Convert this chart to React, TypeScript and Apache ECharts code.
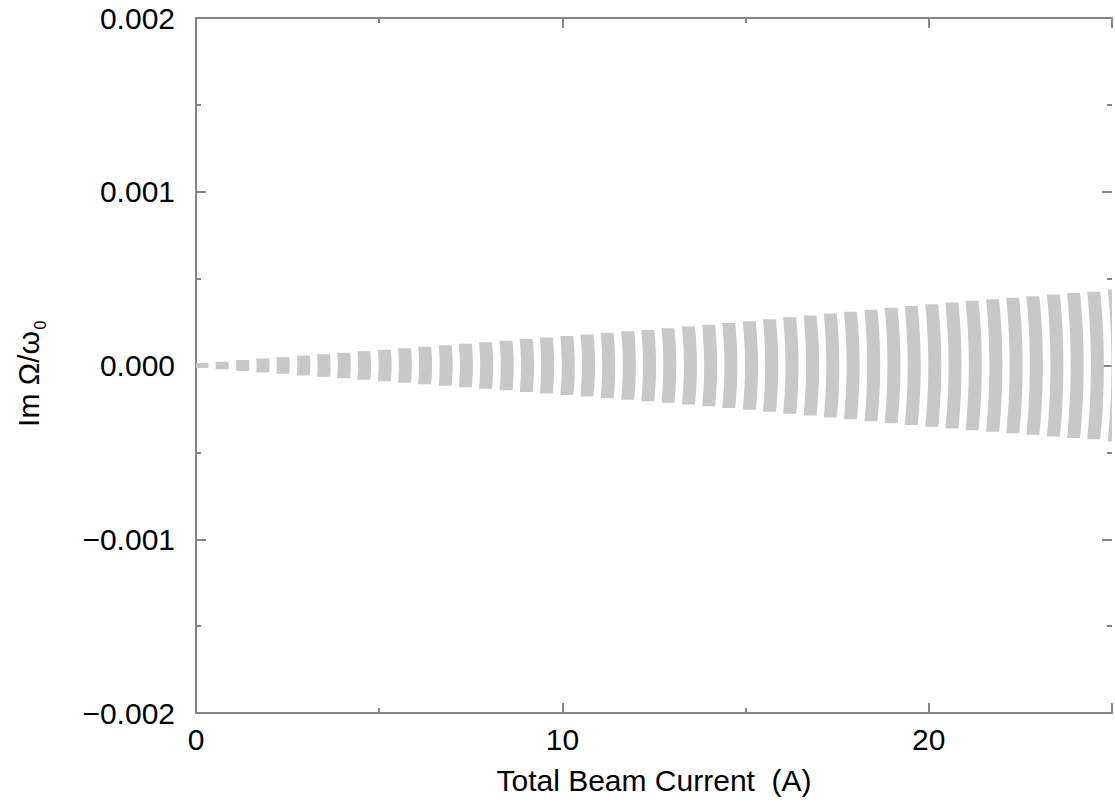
import React, { useEffect, useRef } from "react";
import * as echarts from "echarts";

// Total beam current (A) of each mode group
const currents: number[] = [
  0.16, 0.71, 1.27, 1.82, 2.37, 2.93, 3.48, 4.03, 4.58, 5.14, 5.69, 6.24, 6.8, 7.35, 7.9, 8.46,
  9.01, 9.56, 10.12, 10.67, 11.22, 11.78, 12.33, 12.88, 13.44, 13.99, 14.54, 15.1, 15.65, 16.2,
  16.76, 17.31, 17.86, 18.42, 18.97, 19.52, 20.08, 20.63, 21.18, 21.74, 22.29, 22.84, 23.4,
  23.95, 24.5, 25.06,
];

// Maximum |Im Ω/ω0| spread at each current (symmetric about zero)
const spread: number[] = [
  0.000014, 0.000022, 0.000031, 0.00004, 0.000048, 0.000057, 0.000065, 0.000074, 0.000082,
  0.000091, 0.000099, 0.000108, 0.000116, 0.000125, 0.000134, 0.000143, 0.000152, 0.000161,
  0.00017, 0.000179, 0.000188, 0.000197, 0.000206, 0.000215, 0.000225, 0.000235, 0.000245,
  0.000255, 0.000266, 0.000277, 0.000288, 0.000299, 0.00031, 0.000321, 0.000332, 0.000342,
  0.000352, 0.000362, 0.000372, 0.000381, 0.00039, 0.000399, 0.000408, 0.000417, 0.000425,
  0.000437,
];

const xLabels: number[] = [0, 10, 20];
const yLabels: number[] = [-0.002, -0.001, 0, 0.001, 0.002];

const FONT = "'Liberation Sans', Arial, Helvetica, sans-serif";
const AXIS_COLOR = "#858585";
const BAR_COLOR = "#c8c8c8";
const BAR_PX = 13;
const FS = 30;

export default function App() {
  const ref = useRef<HTMLDivElement>(null);

  useEffect(() => {
    document.body.style.margin = "0";
    if (!ref.current) return;
    const chart = echarts.init(ref.current, undefined, { renderer: "svg" });

    const data = currents.map((c, i) => [c, spread[i]]);

    const fmtY = (v: number) => {
      const r = Math.round(v * 10000) / 10000;
      if (!yLabels.some((l) => Math.abs(l - r) < 1e-9)) return "";
      const s = Math.abs(r).toFixed(3);
      return r < 0 ? "\u2212" + s : s;
    };
    const fmtX = (v: number) =>
      xLabels.includes(Math.round(v)) && Math.abs(v - Math.round(v)) < 1e-9 ? String(v) : "";

    const line = (show: boolean) => ({
      show,
      onZero: false,
      lineStyle: { color: AXIS_COLOR, width: 2 },
    });
    const xBase = {
      type: "value" as const,
      min: 0,
      max: 25,
      splitLine: { show: false },
      axisLine: line(true),
    };
    const yBase = {
      type: "value" as const,
      min: -0.002,
      max: 0.002,
      splitLine: { show: false },
      axisLine: line(true),
    };
    const tick = (len: number) => ({
      show: true,
      inside: true,
      length: len,
      lineStyle: { color: AXIS_COLOR, width: 2 },
    });

    chart.setOption({
      animation: false,
      backgroundColor: "#ffffff",
      grid: { left: 196, right: 0, top: 18, bottom: 89, containLabel: false },
      xAxis: [
        {
          ...xBase,
          position: "bottom",
          interval: 10,
          axisTick: tick(10),
          axisLabel: { show: true, formatter: fmtX, color: "#000", fontFamily: FONT, fontSize: FS, margin: 11 },
          name: "Total Beam Current  (A)",
          nameLocation: "middle",
          nameGap: 52,
          nameTextStyle: { color: "#000", fontFamily: FONT, fontSize: FS },
        },
        { ...xBase, position: "bottom", interval: 5, axisTick: tick(5), axisLabel: { show: false } },
        { ...xBase, position: "top", interval: 10, axisTick: tick(10), axisLabel: { show: false } },
        { ...xBase, position: "top", interval: 5, axisTick: tick(5), axisLabel: { show: false } },
      ],
      yAxis: [
        {
          ...yBase,
          position: "left",
          interval: 0.001,
          axisTick: tick(10),
          axisLabel: { show: true, formatter: fmtY, color: "#000", fontFamily: FONT, fontSize: FS, margin: 21 },
        },
        { ...yBase, position: "left", interval: 0.0005, axisTick: tick(5), axisLabel: { show: false } },
        {
          ...yBase,
          position: "right",
          interval: 0.001,
          axisLine: line(false),
          axisTick: tick(10),
          axisLabel: { show: false },
        },
        {
          ...yBase,
          position: "right",
          interval: 0.0005,
          axisLine: line(false),
          axisTick: tick(5),
          axisLabel: { show: false },
        },
      ],
      graphic: [
        {
          type: "text",
          x: 28,
          y: 379,
          rotation: Math.PI / 2,
          style: {
            text: "Im \u03A9/\u03C9",
            fill: "#000",
            font: `${FS}px ${FONT}`,
            textAlign: "center",
            textVerticalAlign: "middle",
          },
        },
        {
          type: "text",
          x: 40,
          y: 325,
          rotation: Math.PI / 2,
          style: {
            text: "0",
            fill: "#000",
            font: `16px ${FONT}`,
            textAlign: "center",
            textVerticalAlign: "middle",
          },
        },
      ],
      series: [
        {
          type: "custom",
          xAxisIndex: 0,
          yAxisIndex: 0,
          clip: true,
          data,
          renderItem: (params: any, api: any) => {
            const x = api.value(0);
            const h = api.value(1);
            const c = api.coord([x, 0]);
            const t = api.coord([x, h]);
            const hp = Math.max(c[1] - t[1], 2.5);
            const bow = hp * 0.05;
            const N = 16;
            const pts: number[][] = [];
            for (let i = 0; i <= N; i++) {
              const s = -1 + (2 * i) / N;
              pts.push([c[0] - BAR_PX / 2 + bow * (1 - s * s), c[1] + s * hp]);
            }
            for (let i = N; i >= 0; i--) {
              const s = -1 + (2 * i) / N;
              pts.push([c[0] + BAR_PX / 2 + bow * (1 - s * s), c[1] + s * hp]);
            }
            return { type: "polygon", shape: { points: pts }, style: { fill: BAR_COLOR } };
          },
        },
      ],
    });

    return () => chart.dispose();
  }, []);

  return <div ref={ref} style={{ width: 1115, height: 802 }} />;
}
